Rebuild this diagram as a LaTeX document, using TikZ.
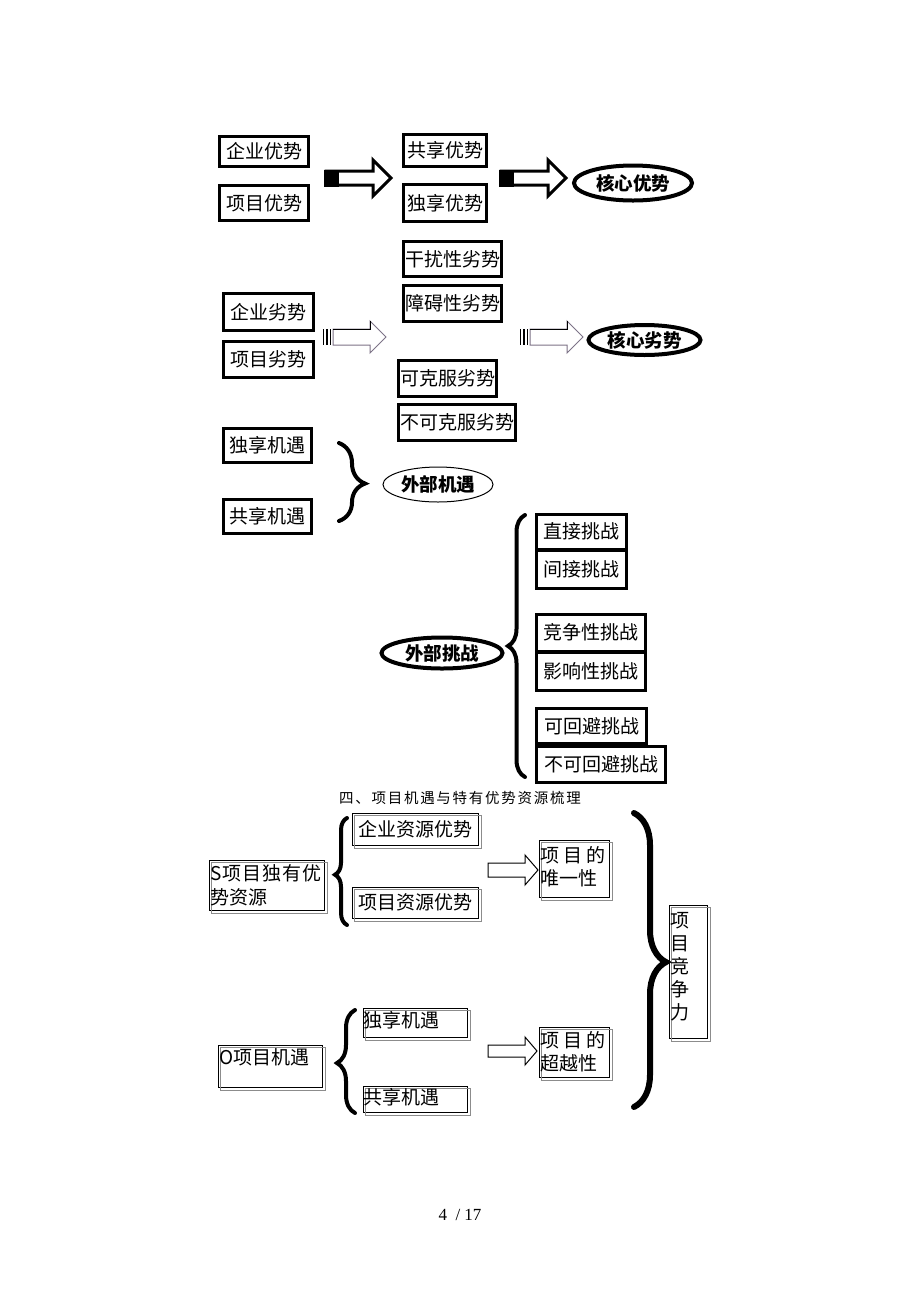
\documentclass[tikz,border=0pt]{standalone}
\usepackage{fontspec}
\setmainfont{Liberation Serif}
\newfontfamily\cjk{Noto Sans CJK SC}
\newfontfamily\cjktitle[LetterSpace=12]{Noto Sans CJK SC}
\usetikzlibrary{shapes.geometric,decorations.pathreplacing}
\definecolor{arrgray}{RGB}{125,115,135}
\definecolor{shadowgray}{RGB}{140,140,140}
\tikzset{
  tb/.style={draw, line width=3pt, fill=white, inner sep=0pt, align=center,
             font=\cjk\fontsize{19}{21}\selectfont},
  ellthick/.style={ellipse, draw, line width=4pt, fill=white, inner sep=0pt,
             font=\cjk\bfseries\fontsize{18.5}{20}\selectfont},
  ellthin/.style={ellipse, draw, line width=1pt, fill=white, inner sep=0pt,
             font=\cjk\bfseries\fontsize{18.5}{20}\selectfont},
  sb/.style={draw, line width=1pt, inner sep=0pt, align=center,
             font=\cjk\fontsize{19}{21}\selectfont},
  txt/.style={inner sep=0pt, align=left, font=\cjk\fontsize{19}{23}\selectfont},
  blockarrow/.style={line width=3pt, fill=white, line join=miter},
  thinarrow/.style={line width=1pt, fill=white, line join=miter},
  brc/.style={decorate, line width=4pt, line cap=round},
}
\newcommand{\shadowbox}[1]{\draw[shadowgray, line width=1pt] ([shift={(2.5,3)}]#1.north west) rectangle ([shift={(2.5,3)}]#1.south east);}
\begin{document}
\begin{tikzpicture}[x=1pt,y=-1pt]
\useasboundingbox[fill=white] (0,0) rectangle (920,1302);

% ---------- strengths ----------
\node[tb, minimum width=89pt, minimum height=30pt] (qyys) at (264,151.5) {企业优势};
\node[tb, minimum width=89pt, minimum height=35pt] (xmys) at (264,203) {项目优势};
\node[tb, minimum width=83pt, minimum height=32pt] (gxys) at (445,150.5) {共享优势};
\node[tb, minimum width=83pt, minimum height=37pt] (dxys) at (445,203) {独享优势};
\node[ellthick, minimum width=118pt, minimum height=35pt] (hxys) at (633,183) {核心优势};

\draw[blockarrow] (326,171) -- (373,171) -- (373,160) -- (391,178) -- (373,196) -- (373,185) -- (326,185) -- cycle;
\fill (324,169.5) rectangle (339,186.5);
\draw[blockarrow] (501,171) -- (548,171) -- (548,160) -- (566,178) -- (548,196) -- (548,185) -- (501,185) -- cycle;
\fill (499,169.5) rectangle (514,186.5);

% ---------- weaknesses ----------
\node[tb, minimum width=98pt, minimum height=35pt] (grx) at (452.5,259) {干扰性劣势};
\node[tb, minimum width=98pt, minimum height=36pt] (zax) at (452.5,303.5) {障碍性劣势};
\node[tb, minimum width=90pt, minimum height=37pt] (qylx) at (268.5,312) {企业劣势};
\node[tb, minimum width=90pt, minimum height=36pt] (xmlx) at (268.5,359.5) {项目劣势};
\node[tb, minimum width=98pt, minimum height=36pt] (kkf) at (447.5,378.5) {可克服劣势};
\node[tb, minimum width=117pt, minimum height=36pt] (bkkf) at (457,422.5) {不可克服劣势};
\node[ellthick, minimum width=112pt, minimum height=30pt] (hxlx) at (644.5,340) {核心劣势};

\foreach \dx in {0,197}{
  \begin{scope}[xshift=\dx]
  \draw[arrgray, line width=1pt, fill=white, line join=miter] (333,329) -- (370,329) -- (370,321) -- (386,337) -- (370,353) -- (370,345) -- (333,345) -- cycle;
  \draw[black, line width=1pt] (333,329) -- (370,329) -- (370,321);
  \draw[black, line width=1.4pt] (323.5,329) -- (323.5,345) (327,329) -- (327,345) (330.5,329) -- (330.5,345);
  \end{scope}
}

% ---------- opportunities ----------
\node[tb, minimum width=88pt, minimum height=34pt] (dxjy) at (267.5,445.5) {独享机遇};
\node[tb, minimum width=88pt, minimum height=34pt] (gxjy) at (267.5,516.5) {共享机遇};
\draw[brc, decoration={brace, amplitude=26pt, aspect=0.52}] (339,443) -- (339,521);
\node[ellthin, minimum width=110pt, minimum height=35pt] (wbjy) at (438,484.5) {外部机遇};

% ---------- threats ----------
\node[tb, minimum width=90pt, minimum height=35pt] (zjtz) at (581.5,531.5) {直接挑战};
\node[tb, minimum width=90pt, minimum height=38pt] (jjtz) at (581.5,569.5) {间接挑战};
\node[tb, minimum width=109pt, minimum height=37pt] (jztz) at (591,632.5) {竞争性挑战};
\node[tb, minimum width=109pt, minimum height=38pt] (yxtz) at (591,671.5) {影响性挑战};
\node[tb, minimum width=110pt, minimum height=35pt] (khbtz) at (591.5,726) {可回避挑战};
\node[tb, minimum width=129pt, minimum height=36pt] (bkhbtz) at (601,764.5) {不可回避挑战};
\draw[brc, decoration={brace, amplitude=17pt, aspect=0.5}] (525,777) -- (525,515);
\node[ellthick, minimum width=121pt, minimum height=31pt] (wbtz) at (442,653) {外部挑战};

% ---------- section title ----------
\node[inner sep=0pt, font=\cjktitle\fontsize{14.5}{16}\selectfont] (title) at (460,798) {四、项目机遇与特有优势资源梳理};

% ---------- S part ----------
\node[sb, minimum width=126pt, minimum height=32pt] (qyzy) at (415,829) {企业资源优势};
\shadowbox{qyzy}
\node[sb, minimum width=126pt, minimum height=31pt] (xmzy) at (415,902.5) {项目资源优势};
\shadowbox{xmzy}
\node[sb, minimum width=115pt, minimum height=50pt] (sbox) at (266.5,885) {};
\shadowbox{sbox}
\node[txt, anchor=west] (stext1) at (210,873) {S\hspace{1pt}项\hspace{1pt}目\hspace{1pt}独\hspace{1pt}有\hspace{1pt}优};
\node[txt, anchor=west] (stext2) at (210,897) {势资源};
\draw[brc, decoration={brace, amplitude=12pt, aspect=0.47}] (347,925) -- (347,818);
\draw[thinarrow] (488,863) -- (525,863) -- (525,855) -- (538,870) -- (525,885) -- (525,877) -- (488,877) -- cycle;
\node[sb, minimum width=70pt, minimum height=57pt] (wyx) at (574,868.5) {};
\shadowbox{wyx}
\node[txt, anchor=west] (wyx1) at (540,855) {项\hspace{4pt}目\hspace{4pt}的};
\node[txt, anchor=west] (wyx2) at (540,878) {唯一性};

% ---------- O part ----------
\node[sb, minimum width=104pt, minimum height=29pt] (dxjy2) at (415,1022.5) {};
\shadowbox{dxjy2}
\node[txt, anchor=west] (dxjy2t) at (363,1020) {独享机遇};
\node[sb, minimum width=104pt, minimum height=26pt] (gxjy2) at (415,1099) {};
\shadowbox{gxjy2}
\node[txt, anchor=west] (gxjy2t) at (363,1097) {共享机遇};
\node[sb, minimum width=104pt, minimum height=42pt] (ojy) at (270,1066) {};
\shadowbox{ojy}
\node[txt, anchor=west] (ojyt) at (219,1057) {O项目机遇};
\draw[brc, decoration={brace, amplitude=18pt, aspect=0.485}] (355,1113) -- (355,1010);
\draw[thinarrow] (488,1045) -- (525,1045) -- (525,1037) -- (537,1051) -- (525,1065) -- (525,1057) -- (488,1057) -- cycle;
\node[sb, minimum width=70pt, minimum height=50pt] (cyx) at (574,1052) {};
\shadowbox{cyx}
\node[txt, anchor=west] (cyx1) at (540,1040) {项\hspace{4pt}目\hspace{4pt}的};
\node[txt, anchor=west] (cyx2) at (540,1063) {超越性};

% ---------- competitiveness ----------
\draw[brc, line width=6pt, decoration={brace, amplitude=32pt, aspect=0.507}] (634,813) -- (634,1107);
\node[sb, minimum width=38pt, minimum height=133pt] (jzl) at (688,971.5) {};
\shadowbox{jzl}
\node[txt, anchor=north west] (jzlt) at (670,912) {项\\目\\竞\\争\\力};

% ---------- page number ----------
\node[inner sep=0pt, font=\fontsize{17}{20}\selectfont] (page) at (460,1215) {4 \ / 17};
\end{tikzpicture}
\end{document}
